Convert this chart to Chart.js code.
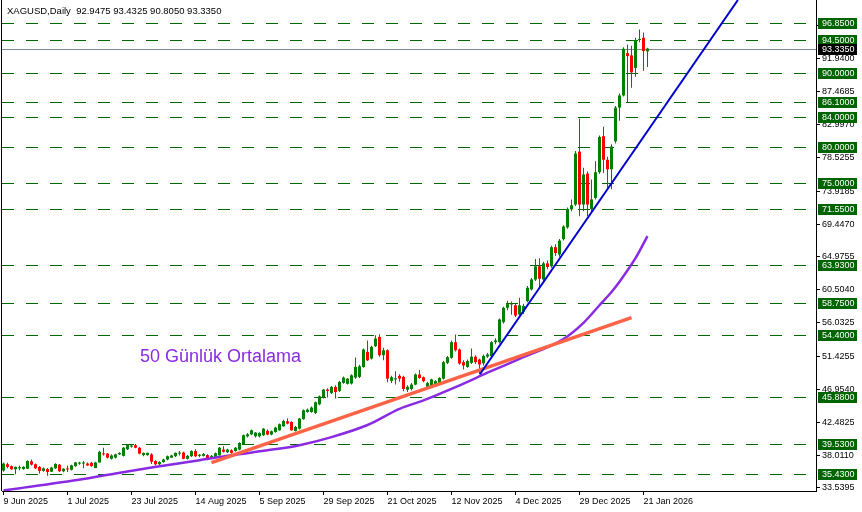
<!DOCTYPE html>
<html>
<head>
<meta charset="utf-8">
<script src="https://cdn.jsdelivr.net/npm/chart.js@4.4.1/dist/chart.umd.min.js"></script>
<style>
html,body{margin:0;padding:0;background:#fff;overflow:hidden}
canvas{display:block}
</style>
</head>
<body>
<canvas id="c" width="862" height="512"></canvas>
<script>
/* ===== data (XAGUSD daily) ===== */
const title = 'XAGUSD,Daily  92.9475 93.4325 90.8050 93.3350';
const caption = '50 Günlük Ortalama';

// one tick label every 16 bars
const tickIdx = [0,16,32,48,64,80,96,112,128,144,160];
const dateLabels = ['9 Jun 2025','1 Jul 2025','23 Jul 2025','14 Aug 2025','5 Sep 2025','29 Sep 2025',
  '21 Oct 2025','12 Nov 2025','4 Dec 2025','29 Dec 2025','21 Jan 2026'];

const opens = [
  35.9,36.75,36.5,36.07,36.2,36.1,36.16,37.15,36.75,36.4,
  35.85,36.1,35.75,36.2,36.7,35.8,36.15,36.0,36.5,36.85,
  36.85,36.85,36.95,36.25,37.0,38.2,38.2,37.5,37.65,38.1,
  37.9,38.8,39.15,39.35,39.0,38.0,38.0,38.1,37.2,36.75,
  37.05,37.4,37.65,37.85,38.2,38.35,37.5,37.85,38.55,37.9,
  37.9,38.0,37.65,37.75,37.97,38.75,38.4,38.65,38.55,38.75,
  39.47,40.56,40.83,40.56,40.56,40.7,41.3,40.8,41.15,41.38,
  41.92,42.6,42.51,41.29,41.6,42.9,43.87,43.87,43.74,44.92,
  45.83,46.92,46.46,47.28,46.74,47.83,47.7,47.74,48.55,48.64,
  50.0,52.05,51.14,52.82,54.09,51.6,52.27,48.1,48.3,48.8,
  48.65,46.9,47.0,47.6,48.97,48.6,47.3,47.4,47.6,47.8,
  48.4,50.56,51.24,53.37,52.37,50.65,50.0,50.56,51.4,51.0,
  50.5,51.4,51.47,53.37,53.37,56.1,58.05,58.5,58.4,57.15,
  57.5,58.96,60.55,61.9,63.7,61.9,64.1,63.7,66.3,65.3,
  67.4,69.0,71.45,72.1,79.3,72.1,76.3,71.5,73.0,76.5,
  81.4,78.2,76.9,80.7,85.3,86.95,92.7,92.4,90.7,94.5,
  94.8,92.9475];
const highs = [
  37.0,36.95,36.6,36.45,36.6,36.5,37.3,37.4,36.85,36.5,
  36.3,36.25,36.4,36.9,36.8,36.2,36.55,36.7,37.05,37.1,
  37.2,37.0,37.05,37.1,38.6,39.0,38.3,38.1,38.2,38.4,
  39.1,39.45,39.5,39.5,39.1,38.35,38.35,38.25,37.3,37.15,
  37.5,37.95,38.05,38.35,38.55,38.45,38.0,38.65,38.8,38.15,
  38.3,38.1,38.0,38.35,39.1,39.2,38.85,38.8,39.1,39.75,
  40.8,41.0,41.5,41.15,41.1,41.7,41.5,41.35,41.85,42.3,
  42.8,43.0,42.6,41.95,43.05,44.2,44.35,44.6,45.3,46.1,
  47.0,47.1,47.4,47.5,48.1,48.7,48.5,49.0,51.3,50.3,
  52.5,53.6,52.9,54.3,54.45,52.6,52.4,48.8,49.4,49.0,
  48.8,47.5,47.8,49.1,49.6,48.7,48.0,48.4,48.2,48.6,
  50.8,51.5,53.6,54.4,52.5,50.9,51.0,52.5,51.6,51.1,
  51.7,51.9,53.5,53.9,56.6,58.2,59.0,58.9,58.6,59.4,
  58.6,61.0,62.1,64.7,64.8,64.3,64.5,66.5,66.7,67.4,
  69.3,71.7,72.8,79.4,83.8,77.1,76.6,75.5,78.0,81.5,
  82.7,78.6,80.3,85.5,87.2,93.5,93.9,93.7,94.8,95.94,
  95.5,93.4325];
const lows = [
  35.75,36.2,36.0,35.4,35.95,36.0,36.1,36.6,36.1,35.5,
  35.75,35.2,35.7,36.1,35.7,35.65,35.7,35.9,36.4,36.7,
  36.2,36.55,36.4,36.2,36.95,37.95,37.55,37.4,37.55,38.0,
  37.8,38.7,39.0,38.95,38.1,37.85,37.9,36.8,36.6,36.65,
  36.95,37.3,37.6,37.75,37.95,37.45,37.4,37.75,37.75,37.7,
  37.8,37.3,37.55,37.7,37.9,38.35,38.3,38.2,38.45,38.65,
  39.4,40.4,40.7,40.4,40.4,40.6,40.7,40.7,41.05,41.3,
  41.85,42.2,41.3,41.2,41.5,42.8,43.75,43.75,43.6,44.8,
  45.7,45.83,46.3,45.7,46.6,47.7,47.6,47.6,48.4,48.5,
  49.9,50.8,51.0,52.7,51.4,50.9,47.9,47.8,47.6,48.0,
  46.7,46.6,46.8,47.5,48.4,47.9,47.1,47.3,47.5,47.7,
  48.3,50.4,51.1,52.1,50.3,49.66,49.9,50.4,50.4,49.0,
  50.2,51.2,51.3,53.1,53.2,55.9,57.7,57.1,56.8,57.0,
  57.2,58.8,60.4,61.7,60.8,61.7,63.3,63.5,65.1,65.0,
  67.2,68.8,71.2,71.9,70.5,71.2,70.5,71.0,72.8,76.3,
  76.4,74.4,74.2,80.4,83.5,86.8,86.0,88.0,89.5,94.2,
  90.3,90.805];
const closes = [
  36.85,36.4,36.07,36.39,36.35,36.4,37.2,36.7,36.2,35.85,
  36.2,35.7,36.3,36.8,35.8,36.15,36.05,36.6,37.0,36.95,
  36.95,36.6,36.5,37.0,38.45,38.1,37.65,37.95,38.1,38.3,
  39.0,39.35,39.3,39.0,38.2,38.3,38.3,37.1,36.75,37.05,
  37.4,37.85,37.95,38.3,38.3,37.5,37.9,38.55,37.85,38.05,
  38.15,37.4,37.9,38.25,39.0,38.45,38.75,38.3,39.0,39.65,
  40.7,40.83,41.38,41.06,41.0,41.6,40.8,41.25,41.74,42.2,
  42.65,42.29,41.38,41.83,42.97,44.1,44.19,44.47,45.19,46.0,
  46.92,46.74,47.28,46.6,47.96,48.55,48.4,48.87,50.0,50.1,
  52.37,50.9,52.73,53.86,51.6,52.27,48.41,48.6,48.45,48.4,
  47.0,47.3,47.6,48.97,48.5,48.06,47.8,48.3,48.06,48.5,
  50.65,51.33,53.37,52.28,50.47,50.2,50.8,51.4,50.65,50.33,
  51.5,51.7,53.37,53.6,56.46,58.05,58.55,58.55,57.0,58.4,
  58.3,60.78,61.9,63.7,62.0,64.1,63.6,66.3,65.5,67.2,
  69.1,71.5,72.0,79.05,72.1,76.2,72.1,72.8,76.5,81.3,
  78.2,76.9,80.0,85.3,86.95,93.3,92.3,90.1,94.5,94.6,
  93.0,93.335];

// 50 day average, sampled along the purple curve (bar index / value)
const maIdx = [0,20,28,37,49,57,66,74,82,91,99,105,113,122,129,140,145,149,152,154,158,161];
const maVal = [33.18,34.75,35.5,36.3,37.3,37.98,38.65,39.35,40.45,42.1,44.3,45.45,47.25,49.45,51.1,53.8,56.0,58.4,60.2,61.6,64.8,67.8];

// trend lines (bar index / price)
const blueIdx = [119.1,183.6];
const blueVal = [49.0,99.94];
const redIdx = [52,157];
const redVal = [36.97,56.7];

// horizontal levels and last price
const levels = [96.85,94.5,90.0,86.1,84.0,80.0,75.0,71.55,63.93,58.75,54.4,45.88,39.53,35.43];
const lastPrice = 93.335;
const yTicks = [33.5395,38.011,42.4825,46.954,51.4255,56.0325,60.504,64.9755,69.447,73.9185,78.5255,82.997,87.4685,91.94,96.4115];

/* ===== styles ===== */
const BULL='#008000', BEAR='#ff0000', LVL='#006400';
const FONT = "'Liberation Sans', Arial, sans-serif";
const idx = opens.map((_,i)=>i);
const col = i => closes[i]>=opens[i] ? BULL : BEAR;
const pts = (xs,ys) => xs.map((x,k)=>({x, y:ys[k]}));

const overlay = {
  id:'overlay',
  beforeDatasetsDraw(chart){
    const {ctx, chartArea:a, scales:{y}} = chart;
    ctx.save();
    ctx.lineWidth = 1;
    ctx.strokeStyle = LVL; ctx.setLineDash([12,12]);
    levels.forEach(v=>{
      const py = Math.round(y.getPixelForValue(v)) + 0.5;
      ctx.beginPath(); ctx.moveTo(a.left, py); ctx.lineTo(a.right, py); ctx.stroke();
    });
    ctx.setLineDash([]);
    ctx.strokeStyle = '#7f8890';
    const pp = Math.round(y.getPixelForValue(lastPrice)) + 0.5;
    ctx.beginPath(); ctx.moveTo(a.left, pp); ctx.lineTo(a.right, pp); ctx.stroke();
    ctx.restore();
  },
  afterDraw(chart){
    const {ctx, chartArea:a, scales:{y}} = chart;
    ctx.save();
    // left frame
    ctx.strokeStyle = '#000'; ctx.lineWidth = 1;
    ctx.beginPath(); ctx.moveTo(1.5, a.top); ctx.lineTo(1.5, a.bottom); ctx.stroke();
    // right side price boxes
    ctx.font = `9px ${FONT}`; ctx.textBaseline = 'middle'; ctx.textAlign = 'left';
    const box = (v, bg) => {
      const py = Math.round(y.getPixelForValue(v));
      ctx.fillStyle = bg; ctx.fillRect(818, py-5, 39, 11);
      ctx.fillStyle = '#fff'; ctx.fillText(v.toFixed(4), 822, py+0.5);
    };
    levels.forEach(v=>box(v, LVL));
    box(lastPrice, '#000');
    // header + caption
    ctx.textBaseline = 'alphabetic';
    ctx.fillStyle = '#000'; ctx.font = `9.5px ${FONT}`;
    ctx.fillText(title, 7, 14);
    ctx.fillStyle = '#8a2be2'; ctx.font = `18px ${FONT}`;
    ctx.fillText(caption, 140, 362);
    ctx.restore();
  }
};

new Chart(document.getElementById('c'), {
  type:'bar',
  data:{datasets:[
    {type:'line', data:pts(blueIdx,blueVal), borderColor:'#0000cd', borderWidth:2, pointRadius:0, order:0},
    {type:'line', data:pts(redIdx,redVal), borderColor:'#ff6347', borderWidth:3.5, pointRadius:0, order:1},
    {type:'line', data:pts(maIdx,maVal), borderColor:'#8a2be2', borderWidth:2.5, pointRadius:0,
      cubicInterpolationMode:'monotone', order:2},
    {data:idx.map(i=>({x:i, y:[opens[i], closes[i]]})), backgroundColor:idx.map(col),
      grouped:false, barThickness:3, maxBarThickness:3, minBarLength:1, inflateAmount:0, order:3},
    {data:idx.map(i=>({x:i, y:[lows[i], highs[i]]})), backgroundColor:idx.map(col),
      grouped:false, barThickness:1, maxBarThickness:1, inflateAmount:0, order:4}
  ]},
  options:{
    responsive:false, animation:false, devicePixelRatio:1,
    layout:{padding:{left:2, right:0, top:0, bottom:0}},
    plugins:{legend:{display:false}, tooltip:{enabled:false}},
    scales:{
      x:{type:'linear', position:'bottom', min:-0.375, max:203.125, offset:false,
        grid:{drawOnChartArea:false, drawTicks:true, tickLength:4, color:'#000', offset:false},
        border:{display:true, color:'#000'},
        afterBuildTicks:s=>{ s.ticks = tickIdx.map(v=>({value:v})); },
        ticks:{autoSkip:false, maxRotation:0, align:'start', padding:1, color:'#000',
          font:{family:FONT, size:9}, callback:(v,i)=>dateLabels[i]},
        afterFit:s=>{ s.height = 21; s.paddingLeft = 0; s.paddingRight = 0; }},
      y:{type:'linear', position:'right', min:33.115, max:99.94,
        grid:{drawOnChartArea:false, drawTicks:true, tickLength:4, color:'#000'},
        border:{display:true, color:'#000'},
        afterBuildTicks:s=>{ s.ticks = yTicks.map(v=>({value:v})); },
        ticks:{padding:2, color:'#000', font:{family:FONT, size:9}, callback:v=>v.toFixed(4)},
        afterFit:s=>{ s.width = 46; s.paddingTop = 0; s.paddingBottom = 0; }}
    }
  },
  plugins:[overlay]
});
</script>
</body>
</html>
